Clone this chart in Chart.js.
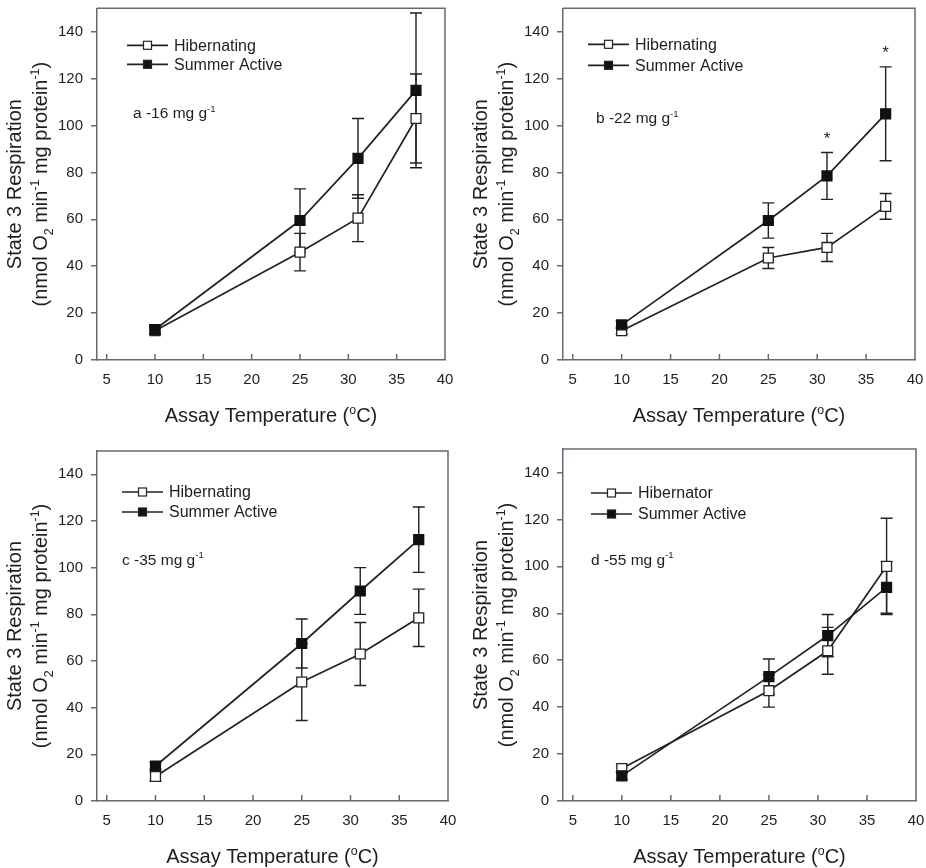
<!DOCTYPE html>
<html>
<head>
<meta charset="utf-8">
<script src="https://cdn.jsdelivr.net/npm/chart.js@4.4.1/dist/chart.umd.min.js"></script>
<style>
  body { margin: 0; background: #fff; }
  #figure { position: relative; width: 926px; height: 868px; }
  .panel { position: absolute; width: 463px; height: 434px; }
</style>
</head>
<body>
<div id="figure">
  <div class="panel" style="left:0;top:0"><canvas id="chartA" width="463" height="434"></canvas></div>
  <div class="panel" style="left:463px;top:0"><canvas id="chartB" width="463" height="434"></canvas></div>
  <div class="panel" style="left:0;top:434px"><canvas id="chartC" width="463" height="434"></canvas></div>
  <div class="panel" style="left:463px;top:434px"><canvas id="chartD" width="463" height="434"></canvas></div>
</div>
<script>
// assay temperatures and axis ticks
const temps = [10, 25, 31, 37];
const xTicks = [5, 10, 15, 20, 25, 30, 35, 40];
const yTicks = [0, 20, 40, 60, 80, 100, 120, 140];

// panel a - 16 mg/g
const hibA = [12.5, 46, 60.5, 103];
const hibAErr = [1.5, 8, 10, 19];
const sumA = [13, 59.5, 86, 115];
const sumAErr = [2, 13.5, 17, 33];

// panel b - 22 mg/g
const hibB = [12.5, 43.5, 48, 65.5];
const hibBErr = [1.5, 4.5, 6, 5.5];
const sumB = [15, 59.5, 78.5, 105];
const sumBErr = [1.5, 7.5, 10, 20];
const sigB = [false, false, true, true];

// panel c - 35 mg/g
const hibC = [10.5, 51, 63, 78.5];
const hibCErr = [2, 16.5, 13.5, 12.3];
const sumC = [15, 67.5, 90, 112];
const sumCErr = [1.5, 10.5, 10, 14];

// panel d - 55 mg/g
const hibD = [13.8, 47, 64, 100];
const hibDErr = [1.5, 7, 10, 20.5];
const sumD = [10.7, 53, 70.5, 91];
const sumDErr = [1.5, 7.5, 9, 11];

const FONT = '"Liberation Sans", Arial, sans-serif';
const INK = '#222222';
const AXIS = '#5f6b75';
const TEXT = '#1e1e1e';

// draw text made of pieces, some of them sub- or superscript
function drawRich(ctx, parts, x, y, size, align) {
    let total = 0;
    const widths = parts.map(p => {
        ctx.font = (p[1] ? size * 0.62 : size) + 'px ' + FONT;
        const w = ctx.measureText(p[0]).width;
        total += w;
        return w;
    });
    let cx = align === 'left' ? x : x - total / 2;
    ctx.textAlign = 'left';
    ctx.textBaseline = 'alphabetic';
    parts.forEach((p, i) => {
        ctx.font = (p[1] ? size * 0.62 : size) + 'px ' + FONT;
        let dy = 0;
        if (p[1] === 'sub') dy = size * 0.28;
        if (p[1] === 'sup') dy = -size * 0.42;
        ctx.fillText(p[0], cx, y + dy);
        cx += widths[i];
    });
}

const yTitle1 = [['State 3 Respiration', '']];
const yTitle2 = [['(nmol O', ''], ['2', 'sub'], [' min', ''], ['-1', 'sup'], [' mg protein', ''], ['-1', 'sup'], [')', '']];
const xTitle = [['Assay Temperature (', ''], ['o', 'sup'], ['C)', '']];

function makePanel(canvasId, cfg) {
    const errs = [cfg.hibErr, cfg.sumErr];

    const extras = {
        id: 'extras',
        beforeDatasetsDraw(chart) {
            // error bars, behind the markers
            const ctx = chart.ctx;
            const xs = chart.scales.x, ys = chart.scales.y;
            ctx.save();
            ctx.strokeStyle = INK;
            ctx.lineWidth = 1.4;
            chart.data.datasets.forEach((ds, d) => {
                ds.data.forEach((pt, i) => {
                    const px = xs.getPixelForValue(pt.x);
                    const top = ys.getPixelForValue(pt.y + errs[d][i]);
                    const bot = ys.getPixelForValue(pt.y - errs[d][i]);
                    ctx.beginPath();
                    ctx.moveTo(px, top); ctx.lineTo(px, bot);
                    ctx.moveTo(px - 6, top); ctx.lineTo(px + 6, top);
                    ctx.moveTo(px - 6, bot); ctx.lineTo(px + 6, bot);
                    ctx.stroke();
                });
            });
            ctx.restore();
        },
        afterDraw(chart) {
            const ctx = chart.ctx;
            const area = chart.chartArea;
            const xs = chart.scales.x, ys = chart.scales.y;
            ctx.save();

            // top and right frame lines + inward x ticks
            ctx.strokeStyle = AXIS;
            ctx.lineWidth = 1.5;
            ctx.beginPath();
            ctx.moveTo(area.left, area.top); ctx.lineTo(area.right, area.top);
            ctx.lineTo(area.right, area.bottom);
            xTicks.forEach(v => {
                const px = xs.getPixelForValue(v);
                if (v < 40) { ctx.moveTo(px, area.bottom); ctx.lineTo(px, area.bottom - 6); }
            });
            ctx.stroke();

            // legend
            ctx.strokeStyle = INK;
            chart.data.datasets.forEach((ds, d) => {
                const ly = area.top + cfg.legendY[d];
                const lx = area.left + cfg.legendX;
                ctx.lineWidth = 1.7;
                ctx.beginPath();
                ctx.moveTo(lx, ly); ctx.lineTo(lx + 41, ly);
                ctx.stroke();
                ctx.fillStyle = ds.pointBackgroundColor;
                ctx.fillRect(lx + 16.5, ly - 4, 8, 8);
                ctx.lineWidth = 1.2;
                ctx.strokeRect(lx + 16.5, ly - 4, 8, 8);
                ctx.fillStyle = TEXT;
                ctx.font = '16px ' + FONT;
                ctx.textAlign = 'left';
                ctx.textBaseline = 'middle';
                ctx.fillText(ds.label, lx + 47, ly + 1);
            });

            // panel label
            ctx.fillStyle = TEXT;
            drawRich(ctx, [[cfg.tag, ''], ['-1', 'sup']], area.left + cfg.tagX, area.top + cfg.tagY, 15.5, 'left');

            // significance asterisks
            if (cfg.sig) {
                ctx.font = '17px ' + FONT;
                ctx.textAlign = 'center';
                ctx.textBaseline = 'alphabetic';
                cfg.sig.forEach((s, i) => {
                    if (!s) return;
                    const px = xs.getPixelForValue(temps[i]);
                    const py = ys.getPixelForValue(cfg.sum[i] + cfg.sumErr[i] + 8);
                    ctx.fillText('*', px, py + 10);
                });
            }

            // axis titles
            drawRich(ctx, xTitle, (area.left + area.right) / 2, area.bottom + 62, 20, 'center');
            const cy = (area.top + area.bottom) / 2;
            ctx.translate(area.left - 76, cy);
            ctx.rotate(-Math.PI / 2);
            drawRich(ctx, yTitle1, 0, 0, 20, 'center');
            ctx.restore();
            ctx.save();
            ctx.translate(area.left - 50, cy);
            ctx.rotate(-Math.PI / 2);
            ctx.fillStyle = TEXT;
            drawRich(ctx, yTitle2, 0, 0, 20, 'center');
            ctx.restore();
        }
    };

    const pts = vals => temps.map((t, i) => ({ x: t, y: vals[i] }));

    new Chart(document.getElementById(canvasId), {
        type: 'line',
        data: {
            datasets: [
                {
                    label: cfg.hibLabel,
                    data: pts(cfg.hib),
                    borderColor: INK,
                    borderWidth: 1.7,
                    pointStyle: 'rect',
                    pointRadius: 7,
                    pointBackgroundColor: '#ffffff',
                    pointBorderColor: INK,
                    pointBorderWidth: 1.3,
                    order: 2
                },
                {
                    label: 'Summer Active',
                    data: pts(cfg.sum),
                    borderColor: INK,
                    borderWidth: 1.7,
                    pointStyle: 'rect',
                    pointRadius: 7,
                    pointBackgroundColor: '#111111',
                    pointBorderColor: '#111111',
                    pointBorderWidth: 1.3,
                    order: 1
                }
            ]
        },
        options: {
            responsive: false,
            animation: false,
            layout: { padding: { top: cfg.top, right: cfg.right, bottom: 0, left: 0 } },
            plugins: { legend: { display: false }, tooltip: { enabled: false } },
            scales: {
                x: {
                    type: 'linear',
                    min: 4,
                    max: 40,
                    afterBuildTicks: s => { s.ticks = xTicks.map(v => ({ value: v })); },
                    afterFit: s => {
                        s.height = 434 - cfg.bottom;
                        s.paddingLeft = 0; s.paddingRight = 0;
                    },
                    grid: { display: false },
                    border: { display: true, color: AXIS, width: 1.5 },
                    ticks: { color: TEXT, padding: 3, font: { family: FONT, size: 15 } }
                },
                y: {
                    min: 0,
                    max: 150,
                    afterBuildTicks: s => { s.ticks = yTicks.map(v => ({ value: v })); },
                    afterFit: s => {
                        s.width = cfg.left;
                        s.paddingTop = 0; s.paddingBottom = 0;
                    },
                    grid: { drawOnChartArea: false, drawTicks: true, tickLength: 6, color: AXIS, lineWidth: 1.5 },
                    border: { display: true, color: AXIS, width: 1.5 },
                    ticks: { color: TEXT, padding: 8, font: { family: FONT, size: 15 } }
                }
            }
        },
        plugins: [extras]
    });
}

makePanel('chartA', {
    hib: hibA, hibErr: hibAErr, sum: sumA, sumErr: sumAErr, hibLabel: 'Hibernating',
    left: 97, right: 18, top: 8, bottom: 360,
    legendX: 30, legendY: [37, 56], tag: 'a -16 mg g', tagX: 36, tagY: 110
});
makePanel('chartB', {
    hib: hibB, hibErr: hibBErr, sum: sumB, sumErr: sumBErr, hibLabel: 'Hibernating', sig: sigB,
    left: 100, right: 11, top: 8, bottom: 360,
    legendX: 25, legendY: [36, 57], tag: 'b -22 mg g', tagX: 33, tagY: 115
});
makePanel('chartC', {
    hib: hibC, hibErr: hibCErr, sum: sumC, sumErr: sumCErr, hibLabel: 'Hibernating',
    left: 97, right: 15, top: 17, bottom: 367,
    legendX: 25, legendY: [41, 61], tag: 'c -35 mg g', tagX: 25, tagY: 114
});
makePanel('chartD', {
    hib: hibD, hibErr: hibDErr, sum: sumD, sumErr: sumDErr, hibLabel: 'Hibernator',
    left: 100, right: 10, top: 15, bottom: 367,
    legendX: 28, legendY: [44, 65], tag: 'd -55 mg g', tagX: 28, tagY: 116
});
</script>
</body>
</html>
